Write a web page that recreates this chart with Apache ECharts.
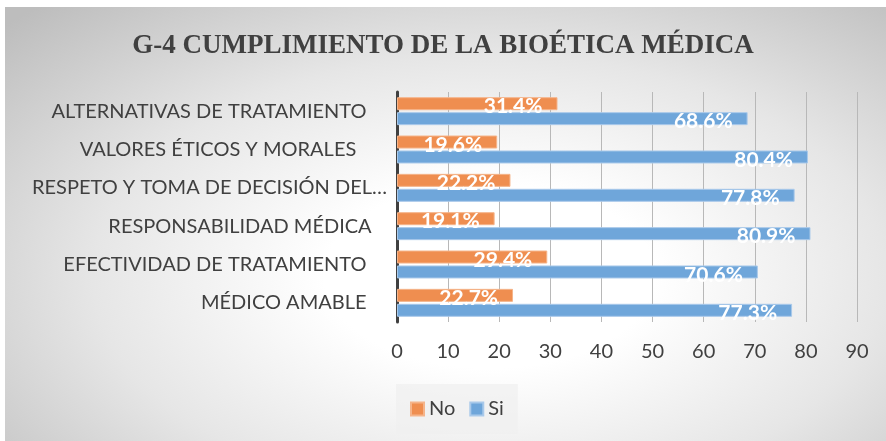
<!DOCTYPE html>
<html lang="es">
<head>
    <meta charset="UTF-8">
    <script src="https://cdn.jsdelivr.net/npm/echarts@6/dist/echarts.min.js"></script>
    <title>G-4</title>
    <style>
        body { margin: 0; background: #fff; }
        #bg {
            position: absolute; left: 5px; top: 7px; width: 881px; height: 434px;
            background: radial-gradient(ellipse 75% 85% at 55% 62%, #ffffff 25%, #e6e6e6 60%, #bdbdbd 100%);
        }
        #ec { position: absolute; left: 0; top: 0; width: 886px; height: 441px; }
    </style>
</head>
<body>
<div id="bg"></div>
<div id="ec"></div>

<script>
    // categorias (de abajo hacia arriba)
    var categories = [
        'MÉDICO AMABLE    ',
        'EFECTIVIDAD DE TRATAMIENTO    ',
        'RESPONSABILIDAD MÉDICA   ',
        'RESPETO Y TOMA DE DECISIÓN DEL…',
        'VALORES ÉTICOS Y MORALES      ',
        'ALTERNATIVAS DE TRATAMIENTO    '
    ];
    var noValues = [22.7, 29.4, 19.1, 22.2, 19.6, 31.4];
    var siValues = [77.3, 70.6, 80.9, 77.8, 80.4, 68.6];
    var xTicks = [0, 90, 10];   // min, max, interval

    var myChart = echarts.init(document.getElementById('ec'));

    var labelStyle = {
        show: true,
        position: 'insideRight',
        offset: [-10, 3],
        color: '#ffffff',
        fontFamily: 'Lato',
        fontWeight: 'bold',
        fontSize: 21,
        formatter: function (p) { return p.value.toFixed(1) + '%'; }
    };

    myChart.setOption({
        title: {
            text: 'G-4 CUMPLIMIENTO DE LA BIOÉTICA MÉDICA',
            left: 'center',
            top: 28,
            textStyle: {
                color: '#404040',
                fontFamily: 'Liberation Serif',
                fontWeight: 'bold',
                fontSize: 27
            }
        },
        legend: {
            data: ['No', 'Si'],
            left: 396,
            top: 384,
            padding: [15, 14],
            itemWidth: 13,
            itemHeight: 13,
            itemGap: 14,
            backgroundColor: 'rgba(240,240,240,0.7)',
            icon: 'rect',
            textStyle: { color: '#404040', fontFamily: 'Lato', fontSize: 20 }
        },
        grid: { left: 397, right: 29, top: 92, bottom: 119 },
        xAxis: {
            type: 'value',
            min: xTicks[0],
            max: xTicks[1],
            interval: xTicks[2],
            axisLine: { show: false },
            axisTick: { show: false },
            splitLine: { lineStyle: { color: '#b8b8b8', width: 1 } },
            axisLabel: { color: '#404040', fontFamily: 'Lato', fontSize: 20, margin: 20 }
        },
        yAxis: {
            type: 'category',
            data: categories,
            axisLine: { lineStyle: { color: '#404040', width: 3 } },
            axisTick: { show: false },
            axisLabel: { color: '#404040', fontFamily: 'Lato', fontSize: 20, margin: 10 }
        },
        series: [
            {
                name: 'No',
                type: 'bar',
                data: noValues,
                barWidth: 13,
                barGap: '15%',
                itemStyle: { color: '#ef8e50', borderColor: '#f5b48a', borderWidth: 1 },
                label: labelStyle
            },
            {
                name: 'Si',
                type: 'bar',
                data: siValues,
                barWidth: 13,
                barGap: '15%',
                itemStyle: { color: '#6fa6da', borderColor: '#a9c9ea', borderWidth: 1 },
                label: labelStyle
            }
        ]
    });
</script>
</body>
</html>
